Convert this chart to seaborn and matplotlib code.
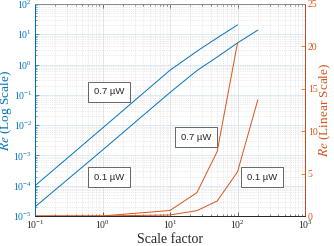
import numpy as np
import pandas as pd
import matplotlib
matplotlib.use("Agg")
import matplotlib.pyplot as plt
import seaborn as sns
from matplotlib.ticker import LogLocator, NullFormatter, MultipleLocator

# data (same values on both axes)
scale_07 = [0.1, 1, 10, 25, 50, 100]
re_07 = [1e-4, 8e-3, 0.65, 2.75, 7.6, 20.4]
scale_01 = [0.1, 1, 10, 25, 50, 100, 200]
re_01 = [2e-5, 1.5e-3, 0.12, 0.63, 1.77, 5.2, 13.7]

blue = "#0072BD"
orange = "#D95319"

sns.set_theme(style="ticks")
plt.rcParams['font.family'] = ['Liberation Serif', 'DejaVu Serif']
plt.rcParams['mathtext.fontset'] = 'stix'

df07 = pd.DataFrame({"scale": scale_07, "re": re_07})
df01 = pd.DataFrame({"scale": scale_01, "re": re_01})

fig = plt.figure(figsize=(3.34, 2.46), dpi=100)
ax = fig.add_axes([35/334, 30/246, 270/334, 212/246])
ax2 = ax.twinx()

ax.set_xscale('log')
ax.set_yscale('log')
sns.lineplot(data=df07, x="scale", y="re", ax=ax, color=blue, lw=0.7)
sns.lineplot(data=df01, x="scale", y="re", ax=ax, color=blue, lw=0.7)
sns.lineplot(data=df07, x="scale", y="re", ax=ax2, color=orange, lw=0.7)
sns.lineplot(data=df01, x="scale", y="re", ax=ax2, color=orange, lw=0.7)

ax.set_xlim(0.1, 1000)
ax.set_ylim(1e-5, 100)
ax2.set_ylim(0, 25)

ax.xaxis.set_major_locator(LogLocator(base=10, numticks=10))
ax.xaxis.set_minor_locator(LogLocator(base=10, subs=np.arange(2, 10), numticks=20))
ax.xaxis.set_minor_formatter(NullFormatter())
ax.yaxis.set_major_locator(LogLocator(base=10, numticks=10))
ax.yaxis.set_minor_locator(LogLocator(base=10, subs=np.arange(2, 10), numticks=20))
ax.yaxis.set_minor_formatter(NullFormatter())
ax2.yaxis.set_major_locator(MultipleLocator(5))

# grids
ax.grid(True, which='major', axis='x', color='#e0e0e0', lw=0.6)
ax.grid(True, which='major', axis='y', color='#d6e6f2', lw=0.6)
ax.grid(True, which='minor', color='#d9d9d9', lw=0.5, ls=':')
ax.set_axisbelow(True)

for a in (ax, ax2):
    a.tick_params(which='both', direction='in', labelsize=7, pad=2)
    a.tick_params(which='major', length=3, width=0.5)
    a.tick_params(which='minor', length=1.6, width=0.4)
ax.tick_params(axis='x', which='both', top=True, colors='#262626')
ax.tick_params(axis='y', which='both', colors=blue)
ax2.tick_params(axis='y', which='both', colors=orange)

for a in (ax, ax2):
    for s in a.spines.values():
        s.set_linewidth(0.6)
    a.spines['top'].set_color('#8c8c8c')
    a.spines['bottom'].set_color('#262626')
ax2.spines['left'].set_color(blue)
ax2.spines['right'].set_color(orange)

ax.set_xlabel("Scale factor", fontsize=10, color='#262626')
ax.set_ylabel(r"$Re$ (Log Scale)", fontsize=9.5, color=blue)
ax2.set_ylabel(r"$Re$ (Linear Scale)", fontsize=9.5, color=orange, rotation=90)
ax.xaxis.set_label_coords(0.5, -0.08)
ax.yaxis.set_label_coords(-20.5/270, 0.5)
ax2.yaxis.set_label_coords(1 + 13/270, 0.5)

box = dict(boxstyle='square,pad=0.6', fc='white', ec='#4d4d4d', lw=0.6)
tkw = dict(fontsize=6.8, family=['Liberation Sans', 'DejaVu Sans'], ha='center', va='center',
           color='#262626', bbox=box)
ax.text(109/334, 1 - 92/246, "0.7 µW", transform=fig.transFigure, **tkw)
ax.text(109/334, 1 - 177/246, "0.1 µW", transform=fig.transFigure, **tkw)
ax.text(196/334, 1 - 137/246, "0.7 µW", transform=fig.transFigure, **tkw)
ax.text(262/334, 1 - 177/246, "0.1 µW", transform=fig.transFigure, **tkw)

fig.savefig("out.png", dpi=100)
